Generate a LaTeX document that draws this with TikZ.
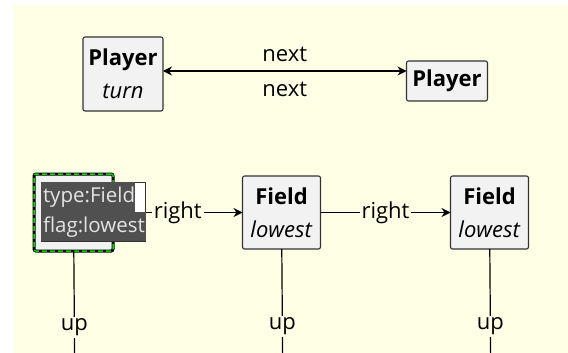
\documentclass[tikz,border=0pt]{standalone}
\usepackage{fontspec}
\setmainfont{Open Sans}
\usetikzlibrary{arrows.meta,positioning}
\definecolor{canvas}{HTML}{FFFFE6}
\definecolor{boxfill}{HTML}{F2F2F2}
\definecolor{boxline}{HTML}{333333}
\definecolor{hlgrey}{HTML}{505050}
\definecolor{tiptext}{HTML}{E4E4E4}
\definecolor{selgreen}{HTML}{00D000}
\setlength{\fboxsep}{0pt}
\begin{document}
\begin{tikzpicture}[x=1pt,y=-1pt,line width=1.2,align=center,node distance=208pt,
    every node/.style={inner sep=1,outer sep=0,font=\fontsize{22}{33}\selectfont},
    box/.style={draw=boxline,fill=boxfill,line width=1.1,rounded corners=2,minimum width=78,minimum height=73},
    selbox/.style={box,draw=black,line width=3,minimum width=79,minimum height=77,
        postaction={draw=selgreen,line width=1.5,dash pattern=on 5pt off 3pt}},
    lbl/.style={fill=canvas,inner sep=2},
    tip/.style={draw=boxline,fill=white,line width=0.8,inner sep=0,align=left,
        font=\fontsize{20.5}{29.5}\selectfont,text=tiptext},
    >={Stealth[length=9pt,width=9pt,inset=3pt]}]
    \useasboundingbox (0,0) rectangle (568,353);
    \clip (0,0) rectangle (568,353);
    \fill[canvas] (13,5) rectangle (568,353);
    % players
    \node[box,minimum width=80,minimum height=74] (0) at (123,74) {\textbf{Player}\\\textit{turn}};
    \node[box,minimum width=81,minimum height=40] (1) at (447,81) {\textbf{Player}};
    \coordinate (5) at ([yshift=3pt]0.east);
    \path[<->] (5) edge node[above=8pt] {next} node[below=10pt] {next} (5 -| 1.west);
    % fields
    \node[selbox] (2) at (73.5,212.5) {};
    \node[box] (3) [right of=2] {\textbf{Field}\\\textit{lowest}};
    \node[box] (4) [right of=3] {\textbf{Field}\\\textit{lowest}};
    \coordinate (6) at (75,404);
    \coordinate (7) at (283,404);
    \coordinate (8) at (491,404);
    \path[->]
        (2) edge node[lbl] {right} (3)
        (3) edge node[lbl] {right} (4);
    \path
        (2) edge node[lbl] {up} (6)
        (3) edge node[lbl] {up} (7)
        (4) edge node[lbl] {up} (8);
    \node[tip,anchor=north west] (9) at (41,182)
        {\colorbox{hlgrey}{\strut\hspace{2pt}type:Field}\\\colorbox{hlgrey}{\strut\hspace{2pt}flag:lowest\hspace{1pt}}};
\end{tikzpicture}
\end{document}
